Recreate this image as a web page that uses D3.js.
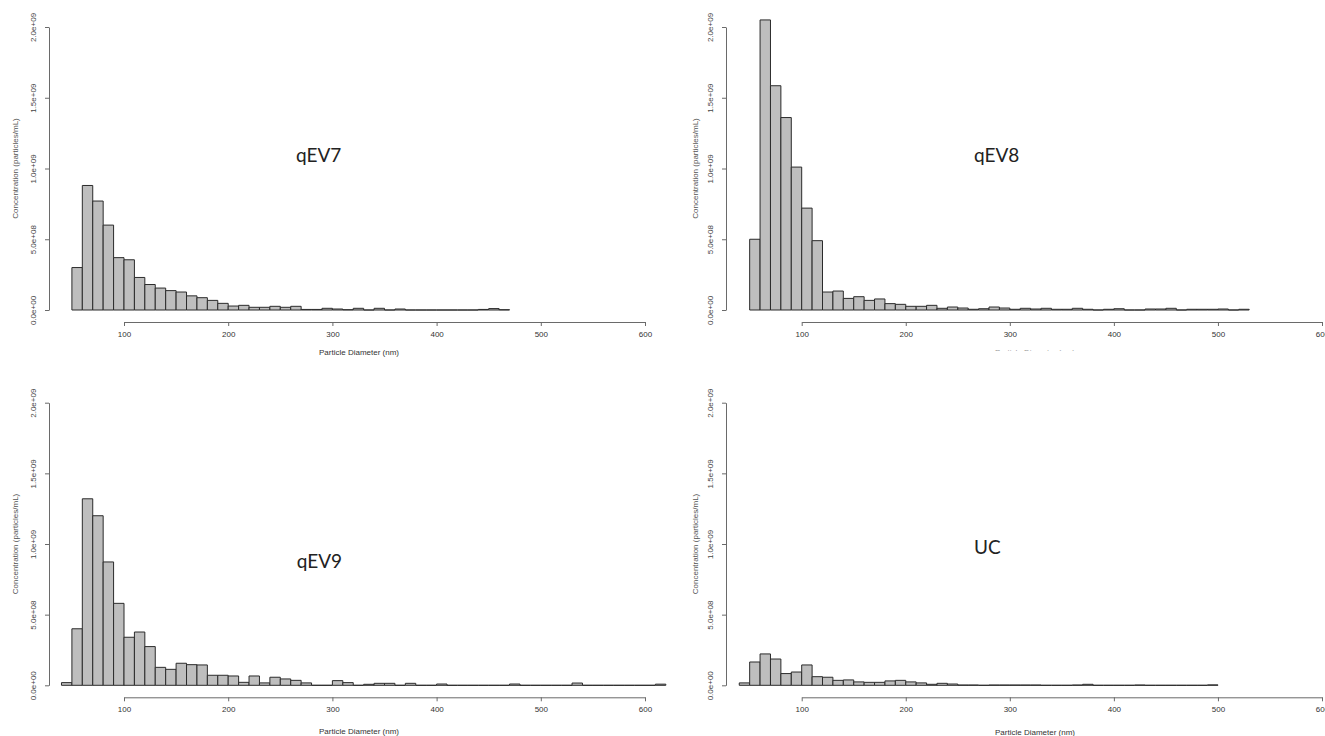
<!DOCTYPE html>
<html>
<head>
<meta charset="utf-8">
<script src="https://cdn.jsdelivr.net/npm/d3@7"></script>
<style>
  html, body { margin: 0; padding: 0; background: #fff; }
  svg { display: block; }
</style>
</head>
<body>
<svg id="chart" width="1325" height="736"></svg>
<script>
// ---------------- DATA ----------------
const panelNames = ["qEV7", "qEV8", "qEV9", "UC"];
const binWidth = 10; // nm
const binStarts = [50, 50, 40, 40]; // left edge of first bin (nm)

// concentration per 10 nm bin (particles/mL)
const qEV7 = [0.30e9, 0.88e9, 0.77e9, 0.60e9, 0.37e9, 0.355e9, 0.23e9, 0.18e9, 0.155e9, 0.137e9,
  0.127e9, 0.10e9, 0.087e9, 0.068e9, 0.047e9, 0.028e9, 0.033e9, 0.019e9, 0.019e9, 0.026e9,
  0.019e9, 0.026e9, 0.004e9, 0.004e9, 0.012e9, 0.007e9, 0.002e9, 0.012e9, 0, 0.012e9,
  0, 0.007e9, 0, 0, 0, 0, 0, 0, 0, 0.004e9, 0.010e9, 0.002e9];

const qEV8 = [0.50e9, 2.05e9, 1.585e9, 1.36e9, 1.01e9, 0.72e9, 0.49e9, 0.127e9, 0.134e9, 0.082e9,
  0.094e9, 0.068e9, 0.078e9, 0.045e9, 0.040e9, 0.026e9, 0.026e9, 0.033e9, 0.012e9, 0.021e9,
  0.014e9, 0.005e9, 0.009e9, 0.021e9, 0.014e9, 0.005e9, 0.012e9, 0.007e9, 0.012e9, 0.005e9,
  0.005e9, 0.012e9, 0.005e9, 0, 0.005e9, 0.009e9, 0, 0, 0.007e9, 0.007e9,
  0.012e9, 0, 0.005e9, 0.005e9, 0.005e9, 0.007e9, 0, 0.005e9];

const qEV9 = [0.019e9, 0.40e9, 1.32e9, 1.20e9, 0.873e9, 0.58e9, 0.34e9, 0.377e9, 0.274e9, 0.127e9,
  0.113e9, 0.156e9, 0.146e9, 0.144e9, 0.071e9, 0.071e9, 0.066e9, 0.021e9, 0.066e9, 0.017e9,
  0.057e9, 0.045e9, 0.035e9, 0.017e9, 0, 0, 0.033e9, 0.019e9, 0, 0.007e9,
  0.014e9, 0.014e9, 0, 0.014e9, 0, 0, 0.009e9, 0, 0, 0,
  0, 0, 0, 0.009e9, 0, 0, 0, 0, 0, 0.016e9,
  0, 0, 0, 0, 0, 0, 0, 0.008e9];

const UC = [0.017e9, 0.165e9, 0.222e9, 0.186e9, 0.083e9, 0.094e9, 0.144e9, 0.061e9, 0.057e9, 0.035e9,
  0.038e9, 0.024e9, 0.021e9, 0.021e9, 0.031e9, 0.035e9, 0.024e9, 0.017e9, 0.007e9, 0.014e9,
  0.009e9, 0.002e9, 0.002e9, 0, 0.002e9, 0.002e9, 0.002e9, 0.002e9, 0.002e9, 0,
  0, 0, 0.002e9, 0.007e9, 0, 0, 0, 0, 0.002e9, 0,
  0, 0, 0, 0, 0, 0.003e9];

const seriesValues = [qEV7, qEV8, qEV9, UC];

const xTicks = [100, 200, 300, 400, 500, 600];
const yTicks = [0, 0.5e9, 1.0e9, 1.5e9, 2.0e9];
const yTickLabels = ["0.0e+00", "5.0e+08", "1.0e+09", "1.5e+09", "2.0e+09"];
const xTitle = "Particle Diameter (nm)";
const yTitle = "Concentration (particles/mL)";

// ---------------- LAYOUT ----------------
const layouts = [
  { x0: 124,   x1: 645,  yAx: 49,  y0: 310,   y1: 27,    xAx: 322,   lx: 296,   ly: 161.7, xtY: 355,   xtX: 359,  ytX: 18,  clipTitle: false },
  { x0: 801.7, x1: 1322, yAx: 726, y0: 310,   y1: 27,    xAx: 322,   lx: 974,   ly: 161.7, xtY: 355,   xtX: 1035, ytX: 698, clipTitle: true },
  { x0: 124,   x1: 645,  yAx: 49,  y0: 685.3, y1: 402.7, xAx: 697.3, lx: 296.7, ly: 567.7, xtY: 734,   xtX: 359,  ytX: 18,  clipTitle: false },
  { x0: 801.7, x1: 1322, yAx: 726, y0: 685.3, y1: 402.7, xAx: 697.3, lx: 974,   ly: 554,   xtY: 734.5, xtX: 1035, ytX: 698, clipTitle: false }
];

const svg = d3.select("#chart");
const defs = svg.append("defs");

const smallFont = "'Liberation Sans', Arial, sans-serif";

layouts.forEach((L, i) => {
  const g = svg.append("g");
  const x = d3.scaleLinear().domain([100, 600]).range([L.x0, L.x1]);
  const y = d3.scaleLinear().domain([0, 2e9]).range([L.y0, L.y1]);
  const vals = seriesValues[i];
  const start = binStarts[i];

  // bars
  g.append("g").selectAll("path")
    .data(vals)
    .join("path")
    .attr("d", (v, k) => {
      const a = x(start + k * binWidth), b = x(start + (k + 1) * binWidth);
      return `M${a},${y(0)}V${y(v)}H${b}V${y(0)}Z`;
    })
    .attr("fill", "#bebebe")
    .attr("stroke", "#2b2b2b")
    .attr("stroke-width", 1);

  // x axis
  const xa = g.append("g")
    .attr("transform", `translate(0,${L.xAx})`)
    .call(d3.axisBottom(x).tickValues(xTicks).tickSize(4).tickSizeOuter(0).tickPadding(5.3).tickFormat(d3.format("d")));
  xa.select(".domain").attr("stroke", "#6a6a6a");
  xa.selectAll(".tick line").attr("stroke", "#6a6a6a");
  xa.selectAll(".tick text").attr("font-family", smallFont).attr("font-size", 8).attr("fill", "#333");

  // y axis
  const ya = g.append("g")
    .attr("transform", `translate(${L.yAx},0)`)
    .call(d3.axisLeft(y).tickValues(yTicks).tickSize(4).tickSizeOuter(0)
      .tickFormat((d, k) => yTickLabels[k]));
  ya.select(".domain").attr("stroke", "#6a6a6a");
  ya.selectAll(".tick line").attr("stroke", "#6a6a6a");
  ya.selectAll(".tick text")
    .attr("x", null).attr("dy", null)
    .attr("transform", "translate(-13,0) rotate(-90)")
    .attr("text-anchor", "middle")
    .attr("font-family", smallFont).attr("font-size", 8).attr("fill", "#444");

  // y title
  g.append("text")
    .attr("transform", `translate(${L.ytX},${(L.y0 + L.y1) / 2}) rotate(-90)`)
    .attr("text-anchor", "middle")
    .attr("font-family", smallFont).attr("font-size", 8).attr("fill", "#555")
    .text(yTitle);

  // x title
  const xt = g.append("text")
    .attr("x", L.xtX).attr("y", L.xtY)
    .attr("text-anchor", "middle")
    .attr("font-family", smallFont).attr("font-size", 8).attr("fill", "#333")
    .text(xTitle);
  if (L.clipTitle) {
    defs.append("clipPath").attr("id", "clipT" + i)
      .append("rect").attr("x", L.xtX - 60).attr("y", L.xtY - 8).attr("width", 120).attr("height", 4);
    xt.attr("clip-path", `url(#clipT${i})`).attr("fill", "#999");
  }

  // panel label
  g.append("text")
    .attr("x", L.lx).attr("y", L.ly)
    .attr("font-family", "Lato, 'Open Sans', sans-serif")
    .attr("font-size", 19)
    .attr("fill", "#222")
    .text(panelNames[i]);
});
</script>
</body>
</html>
